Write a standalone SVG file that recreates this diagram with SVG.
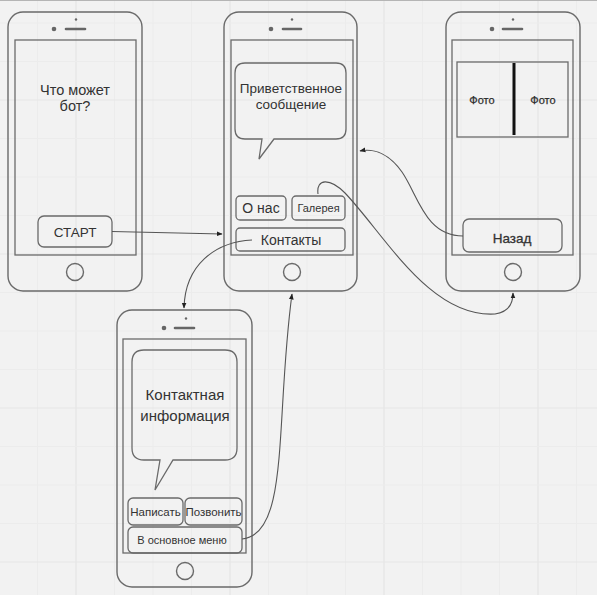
<svg xmlns="http://www.w3.org/2000/svg" width="597" height="595" viewBox="0 0 597 595">
<defs>
<style>
.bg{fill:#f2f2f2}
.gm{stroke:#ececec;stroke-width:1}
.gM{stroke:#e5e5e5;stroke-width:1.2}
.frame{fill:none;stroke:#6a6a6a;stroke-width:1.4}
.scr{fill:none;stroke:#6a6a6a;stroke-width:1.3}
.btn{fill:none;stroke:#6a6a6a;stroke-width:1.3}
.dot{fill:#666}
.bar{stroke:#666;stroke-width:2.6;stroke-linecap:round}
.t{font-family:"Liberation Sans",Arial,sans-serif;fill:#333;text-anchor:middle}
.c{fill:none;stroke:#555;stroke-width:1.1}
</style>
<marker id="ah" viewBox="0 0 10 10" refX="9" refY="5" markerWidth="6" markerHeight="6" orient="auto" markerUnits="userSpaceOnUse">
<path d="M0,1 L10,5 L0,9 z" fill="#222"/>
</marker>
</defs>
<rect class="bg" x="0" y="0" width="597" height="595"/>
<g id="grid">
<line class="gm" x1="37.5" y1="0" x2="37.5" y2="595"/><line class="gM" x1="76" y1="0" x2="76" y2="595"/><line class="gm" x1="114.5" y1="0" x2="114.5" y2="595"/><line class="gm" x1="153" y1="0" x2="153" y2="595"/><line class="gm" x1="191.5" y1="0" x2="191.5" y2="595"/><line class="gM" x1="230" y1="0" x2="230" y2="595"/><line class="gm" x1="268.5" y1="0" x2="268.5" y2="595"/><line class="gm" x1="307" y1="0" x2="307" y2="595"/><line class="gm" x1="345.5" y1="0" x2="345.5" y2="595"/><line class="gM" x1="384" y1="0" x2="384" y2="595"/><line class="gm" x1="422.5" y1="0" x2="422.5" y2="595"/><line class="gm" x1="461" y1="0" x2="461" y2="595"/><line class="gm" x1="499.5" y1="0" x2="499.5" y2="595"/><line class="gM" x1="538" y1="0" x2="538" y2="595"/><line class="gm" x1="576.5" y1="0" x2="576.5" y2="595"/>
<line class="gm" x1="0" y1="23" x2="597" y2="23"/><line class="gm" x1="0" y1="61.5" x2="597" y2="61.5"/><line class="gM" x1="0" y1="100" x2="597" y2="100"/><line class="gm" x1="0" y1="138.5" x2="597" y2="138.5"/><line class="gm" x1="0" y1="177" x2="597" y2="177"/><line class="gm" x1="0" y1="215.5" x2="597" y2="215.5"/><line class="gM" x1="0" y1="254" x2="597" y2="254"/><line class="gm" x1="0" y1="292.5" x2="597" y2="292.5"/><line class="gm" x1="0" y1="331" x2="597" y2="331"/><line class="gm" x1="0" y1="369.5" x2="597" y2="369.5"/><line class="gM" x1="0" y1="408" x2="597" y2="408"/><line class="gm" x1="0" y1="446.5" x2="597" y2="446.5"/><line class="gm" x1="0" y1="485" x2="597" y2="485"/><line class="gm" x1="0" y1="523.5" x2="597" y2="523.5"/><line class="gM" x1="0" y1="562" x2="597" y2="562"/>
<line x1="0" y1="0.5" x2="597" y2="0.5" stroke="#b5b5b5" stroke-width="1"/>
</g>

<g id="phone-start">
<rect class="frame" x="8" y="12" width="134" height="279" rx="15"/>
<rect class="scr" x="15" y="40" width="121" height="215"/>
<circle class="dot" cx="54" cy="29" r="2.3"/>
<line class="bar" x1="66" y1="29" x2="85" y2="29"/>
<circle class="dot" cx="76" cy="19.5" r="1.2"/>
<circle class="frame" cx="75" cy="272" r="8.5"/>
<text class="t" font-size="14.5" x="75" y="95">Что может</text>
<text class="t" font-size="14.5" x="75" y="111">бот?</text>
<g id="btn-start">
<rect class="btn" x="38" y="216" width="74" height="31" rx="6"/>
<text class="t" font-size="13.5" x="75" y="237">СТАРТ</text>
</g>
</g>

<g id="phone-main">
<rect class="frame" x="224" y="12" width="133" height="279" rx="15"/>
<rect class="scr" x="231" y="40" width="122" height="215"/>
<circle class="dot" cx="271" cy="29" r="2.3"/>
<line class="bar" x1="283" y1="29" x2="301" y2="29"/>
<circle class="dot" cx="292" cy="19.5" r="1.2"/>
<circle class="frame" cx="292" cy="272" r="8.5"/>
<path class="btn" d="M245,63 H336 Q346,63 346,73 V129 Q346,139 336,139 H274 L259,159 L262,139 H245 Q235,139 235,129 V73 Q235,63 245,63 Z"/>
<text class="t" font-size="13.5" x="291" y="93">Приветственное</text>
<text class="t" font-size="13.5" x="291" y="109">сообщение</text>
<g id="btn-about">
<rect class="btn" x="236" y="196" width="50" height="24" rx="4"/>
<text class="t" font-size="14" x="261" y="213">О нас</text>
</g>
<g id="btn-gallery">
<rect class="btn" x="292" y="196" width="53" height="24" rx="4"/>
<text class="t" font-size="11" x="318.5" y="212">Галерея</text>
</g>
<g id="btn-contacts">
<rect class="btn" x="236" y="228" width="109" height="23" rx="4"/>
<text class="t" font-size="14" x="291" y="245">Контакты</text>
</g>
</g>

<g id="phone-gallery">
<rect class="frame" x="446" y="12" width="134" height="279" rx="15"/>
<rect class="scr" x="452" y="40" width="121" height="215"/>
<circle class="dot" cx="492" cy="29" r="2.3"/>
<line class="bar" x1="503" y1="29" x2="522" y2="29"/>
<circle class="dot" cx="513" cy="19.5" r="1.2"/>
<circle class="frame" cx="513" cy="272" r="8.5"/>
<rect class="scr" x="457" y="62" width="111" height="75"/>
<line x1="514" y1="63" x2="514" y2="135" stroke="#111" stroke-width="3"/>
<text class="t" font-size="11" fill="#222" stroke="#222" stroke-width="0.25" x="482" y="104">Фото</text>
<text class="t" font-size="11" fill="#222" stroke="#222" stroke-width="0.25" x="543" y="104">Фото</text>
<g id="btn-back">
<rect class="btn" x="463" y="219" width="99" height="33" rx="6"/>
<text class="t" font-size="13.5" fill="#333" stroke="#333" stroke-width="0.3" x="512" y="243">Назад</text>
</g>
</g>

<g id="phone-contacts">
<rect class="frame" x="117" y="310" width="135" height="277" rx="15"/>
<rect class="scr" x="123" y="339" width="123" height="214"/>
<circle class="dot" cx="164" cy="328" r="2.3"/>
<line class="bar" x1="175" y1="328" x2="194" y2="328"/>
<circle class="dot" cx="186" cy="318.5" r="1.2"/>
<circle class="frame" cx="185" cy="571" r="8.5"/>
<path class="btn" d="M144,350 H225 Q237,350 237,362 V448 Q237,460 225,460 H173 L155,490 L160,460 H144 Q132,460 132,448 V362 Q132,350 144,350 Z"/>
<text class="t" font-size="15" fill="#3a3a3a" x="185" y="400">Контактная</text>
<text class="t" font-size="15" fill="#3a3a3a" x="185" y="421">информация</text>
<g id="btn-write">
<rect class="btn" x="128" y="498" width="55" height="27" rx="5"/>
<text class="t" font-size="11.5" x="155.5" y="516">Написать</text>
</g>
<g id="btn-call">
<rect class="btn" x="185" y="498" width="57" height="27" rx="5"/>
<text class="t" font-size="11.5" x="213.5" y="516">Позвонить</text>
</g>
<g id="btn-menu">
<rect class="btn" x="128" y="527" width="114" height="26" rx="5"/>
<text class="t" font-size="11" x="182" y="544">В основное меню</text>
</g>
</g>

<g id="connectors">
<path class="c" d="M112,231.5 L222,234" marker-end="url(#ah)"/>
<path class="c" d="M252,240 C215,242 185,265 184,308" marker-end="url(#ah)"/>
<path class="c" d="M242,539 C290,535 275,420 292,294" marker-end="url(#ah)"/>
<path class="c" d="M318,194 C316,178 330,178 345,193 C385,235 430,318 495,314 C510,312 513,302 513,293" marker-end="url(#ah)"/>
<path class="c" d="M463,236 C425,236 418,195 402,172 C390,155 375,148 360,151" marker-end="url(#ah)"/>
</g>
</svg>
